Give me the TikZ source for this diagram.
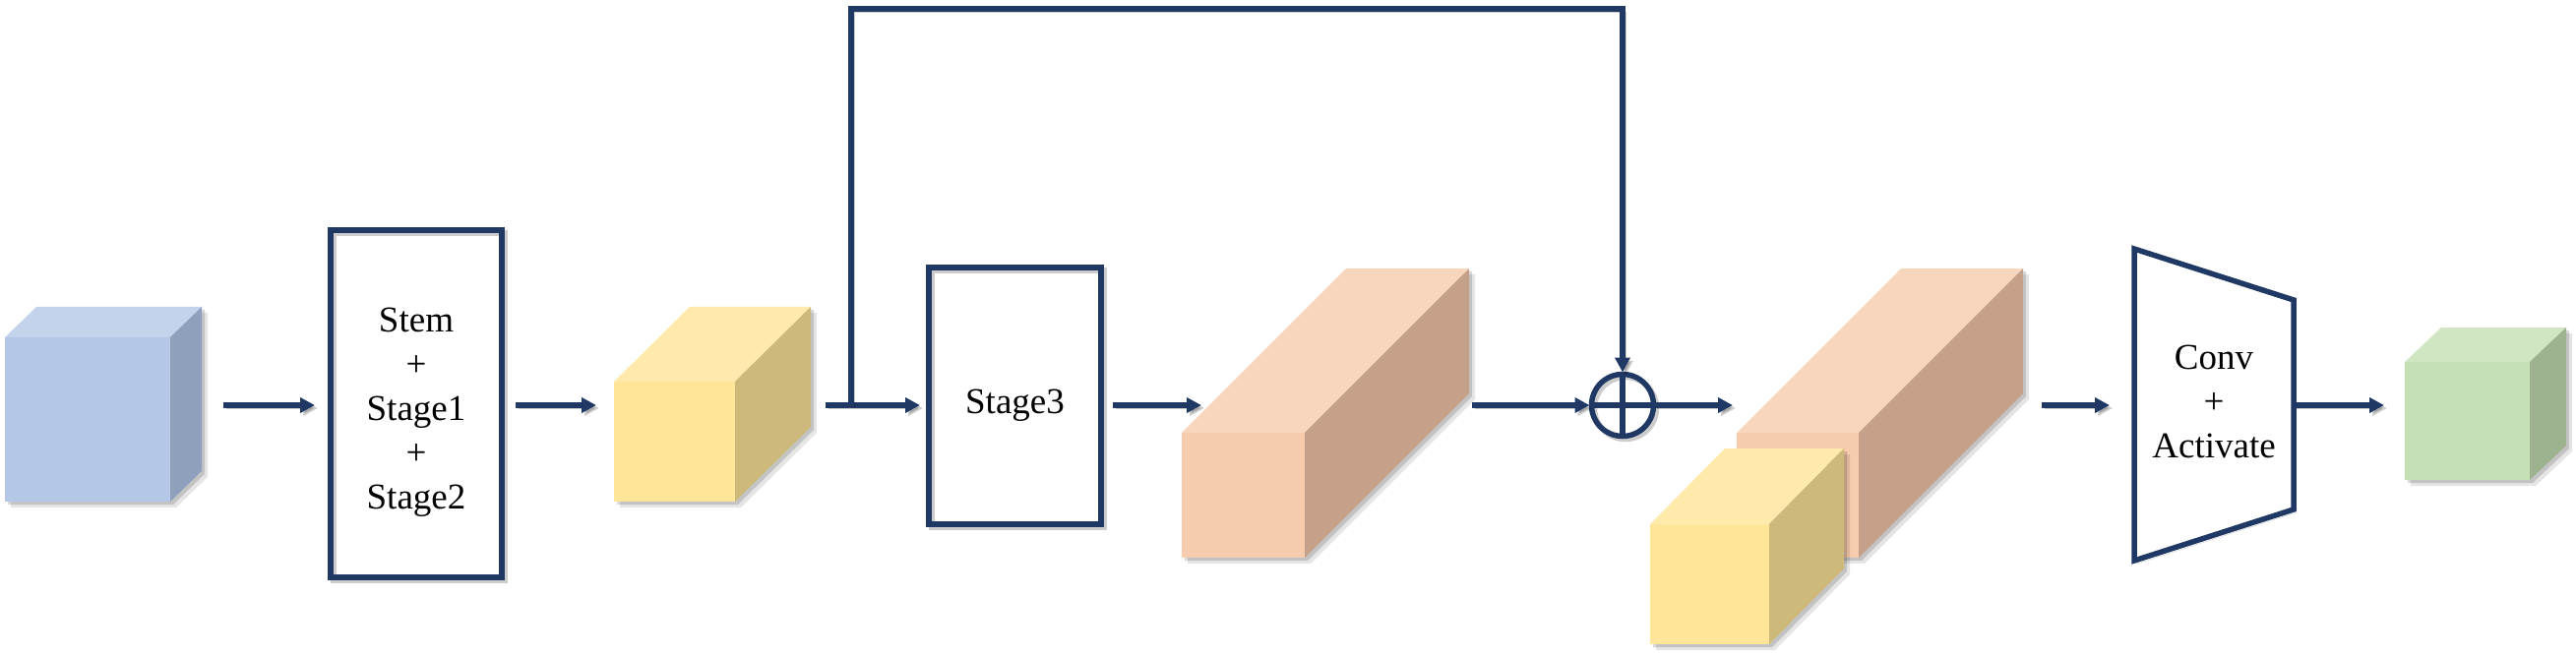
\documentclass[tikz,border=0pt]{standalone}
\usepackage{fontspec}
\setmainfont{Liberation Serif}
\usetikzlibrary{arrows.meta,calc}
\definecolor{navy}{HTML}{203864}
\definecolor{blF}{HTML}{B4C7E7}\definecolor{blT}{HTML}{C4D3EC}\definecolor{blS}{HTML}{8FA0BC}
\definecolor{yeF}{HTML}{FFE597}\definecolor{yeT}{HTML}{FFEAAB}\definecolor{yeS}{HTML}{CDB97A}
\definecolor{saF}{HTML}{F7CBAD}\definecolor{saT}{HTML}{F8D5BD}\definecolor{saS}{HTML}{C5A18A}
\definecolor{grF}{HTML}{C5E0B4}\definecolor{grT}{HTML}{D0E6C3}\definecolor{grS}{HTML}{9DB28F}
% #1 name, #2 x, #3 y (front top-left), #4 w, #5 h, #6 dx, #7 dy, #8 colour prefix
\newcommand\cuboid[8]{%
  \fill[black, opacity=0.10] (#2+6,#3+6) -- (#2+#6+6,#3-#7+6) -- (#2+#4+#6+6,#3-#7+6) -- (#2+#4+#6+6,#3+#5-#7+6) -- (#2+#4+6,#3+#5+6) -- (#2+6,#3+#5+6) -- cycle;
  \fill[black, opacity=0.15] (#2+3,#3+3) -- (#2+#6+3,#3-#7+3) -- (#2+#4+#6+3,#3-#7+3) -- (#2+#4+#6+3,#3+#5-#7+3) -- (#2+#4+3,#3+#5+3) -- (#2+3,#3+#5+3) -- cycle;
  \fill[#8T] (#2,#3) -- (#2+#6,#3-#7) -- (#2+#4+#6,#3-#7) -- (#2+#4,#3) -- cycle;
  \fill[#8S] (#2+#4,#3) -- (#2+#4+#6,#3-#7) -- (#2+#4+#6,#3+#5-#7) -- (#2+#4,#3+#5) -- cycle;
  \node[fill=#8F, inner sep=0pt, outer sep=0pt, minimum width=#4pt, minimum height=#5pt, anchor=north west] (#1-f) at (#2,#3) {};
  \node[inner sep=0pt, outer sep=0pt, minimum width={(#4+#6)*1pt}, minimum height={(#5+#7)*1pt}, anchor=north west] (#1) at (#2,#3-#7) {};
}
\tikzset{
  navyline/.style={draw=navy, line width=5.5pt},
  lshadow/.style={preaction={draw=black, opacity=0.2, transform canvas={shift={(3pt,-3pt)}}}},
  arr/.style={navyline, lshadow, -{Triangle[length=15pt,width=15pt]}},
  box/.style={navyline, lshadow, inner sep=0pt, outer sep=0pt},
  txt/.style={font=\fontsize{37}{45}\selectfont, align=center, text=black},
}
\begin{document}
\begin{tikzpicture}[x=1pt,y=-1pt]
\useasboundingbox (0,0) rectangle (2618,668);
\coordinate (axis) at (0,412);

% feature maps
\cuboid{cin}{5}{343}{168}{167}{32}{31}{bl}
\cuboid{ya}{624}{388}{123}{122}{77}{76}{ye}
\cuboid{ba}{1201}{440}{125}{127}{167}{167}{sa}
\cuboid{bb}{1765}{440}{124}{127}{167}{167}{sa}
\cuboid{yb}{1677}{533}{121}{122}{76}{77}{ye}
\cuboid{cout}{2444}{368}{127}{120}{37}{35}{gr}

% blocks
\node[box, minimum width=174pt, minimum height=353pt,
      label={[txt,yshift=-9pt]center:{Stem\\+\\Stage1\\+\\Stage2}}] (stem) at (423,410.5) {};
\node[box, minimum width=175pt, minimum height=261pt,
      label={[txt,yshift=-9.5pt]center:{Stage3}}] (stage3) at (1031.5,402.5) {};
\draw[navyline, lshadow, line join=miter] (2169,253) -- (2331,305) -- (2331,518) -- (2169,570) -- cycle;
\coordinate (convL) at (2169,412);
\coordinate (convR) at (2331,412);
\node[txt] (conv) at (2250,408) {Conv\\+\\Activate};

% sum
\node[navyline, lshadow, circle, minimum size=63pt, inner sep=0pt, outer sep=0pt] (sum) at (1649,412) {};
\draw[navyline] (sum.north) -- (sum.south) (sum.west) -- (sum.east);

% connectors
\draw[arr, shorten <=22pt, shorten >=16pt] (cin.east |- axis) -- (stem.west |- axis);
\draw[arr, shorten <=14pt, shorten >=18pt] (stem.east |- axis) -- (ya-f.west |- axis);
\draw[arr, shorten <=15pt, shorten >=9pt] (ya.east |- axis) -- (stage3.west |- axis);
\coordinate (split) at ($(ya.east |- axis)+(41,0)$);
\draw[arr, shorten >=2pt] (split) -- ++(0,-403) -| (sum.north);
\draw[arr, shorten <=12pt] (stage3.east |- axis) -- ($(ba-f.west |- axis)+(20,0)$);
\draw[arr, shorten <=3pt, shorten >=2pt] (ba.east |- axis) -- (sum.west);
\draw[arr, shorten >=4pt] (sum.east) -- (bb-f.west |- axis);
\draw[arr, shorten <=19pt, shorten >=25pt] (bb.east |- axis) -- (convL);
\draw[arr, shorten >=21pt] (convR) -- (cout-f.west |- axis);
\end{tikzpicture}
\end{document}
